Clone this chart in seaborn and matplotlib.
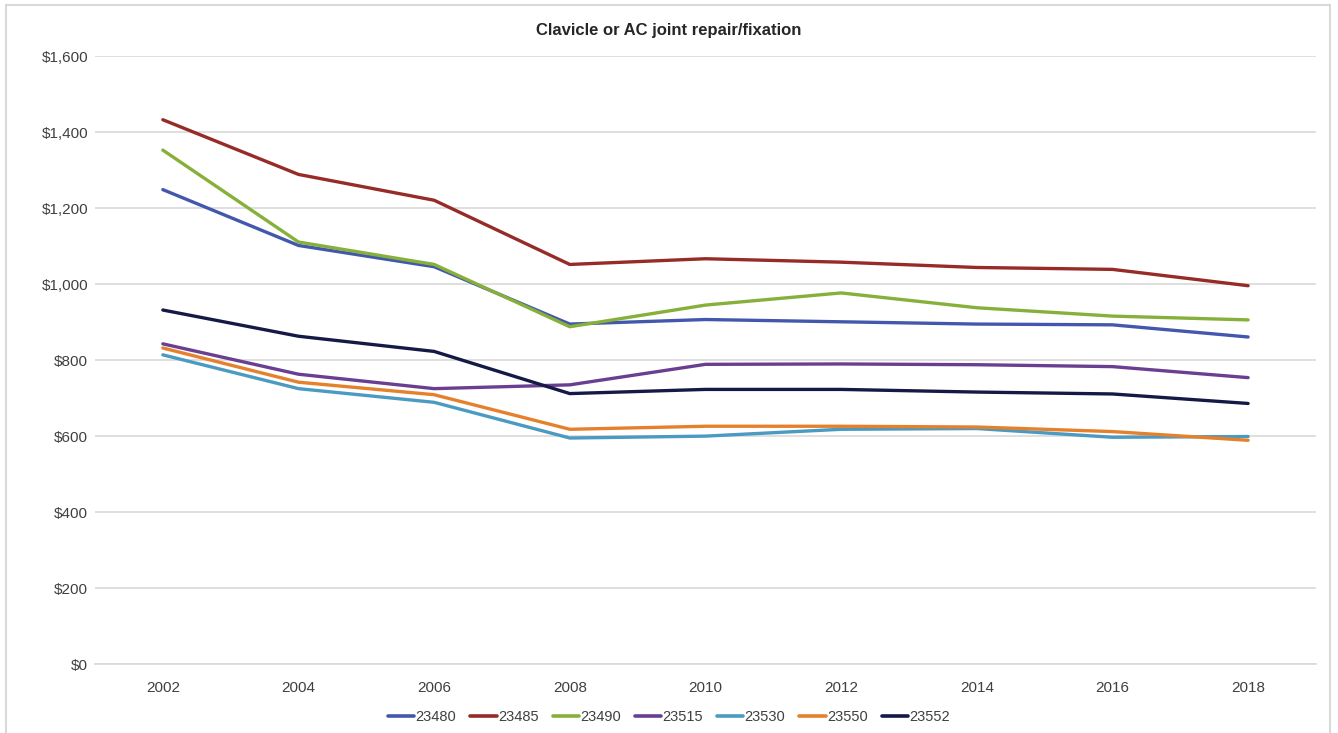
import matplotlib
matplotlib.use("Agg")
import matplotlib.pyplot as plt
from matplotlib.patches import Rectangle
from matplotlib.ticker import FuncFormatter
import seaborn as sns
import pandas as pd

years = ["2002", "2004", "2006", "2008", "2010", "2012", "2014", "2016", "2018"]
codes = ["23480", "23485", "23490", "23515", "23530", "23550", "23552"]

v23480 = [1249, 1102, 1046, 895, 907, 901, 895, 893, 861]
v23485 = [1433, 1289, 1221, 1052, 1067, 1058, 1044, 1039, 996]
v23490 = [1353, 1111, 1052, 888, 945, 977, 938, 916, 906]
v23515 = [843, 763, 725, 735, 789, 790, 788, 783, 754]
v23530 = [814, 725, 689, 595, 600, 618, 620, 597, 599]
v23550 = [832, 742, 709, 618, 626, 626, 624, 612, 589]
v23552 = [932, 863, 823, 712, 723, 723, 716, 711, 686]

colors = ["#4358AD", "#962B28", "#86B03A", "#6A3F92", "#4B9AC2", "#E5812C", "#141A45"]

series = [v23480, v23485, v23490, v23515, v23530, v23550, v23552]
df = pd.DataFrame({
    "year": years * len(codes),
    "code": [c for c in codes for _ in years],
    "cost": [v for s in series for v in s],
})
df["pos"] = df["year"].map({y: i for i, y in enumerate(years)})

sns.set_theme(style="white")
plt.rcParams["font.family"] = ["Liberation Sans", "DejaVu Sans"]

fig = plt.figure(figsize=(13.38, 7.33), dpi=100)
ax = fig.add_axes([0.071, 0.0941, 0.9125, 0.8291])

sns.lineplot(data=df, x="pos", y="cost", hue="code", hue_order=codes,
             palette=colors, linewidth=2.4, ax=ax, legend=False, sort=False)

ax.set_xlim(-0.5, len(years) - 0.5)
ax.set_ylim(0, 1600)
ax.set_yticks(range(0, 1601, 200))
ax.yaxis.set_major_formatter(FuncFormatter(lambda v, _: f"${int(v):,}"))
ax.set_xticks(range(len(years)))
ax.set_xticklabels(years)
ax.grid(axis="y", color="#D9D9D9", linewidth=1.2)
ax.set_axisbelow(True)
for side in ["top", "right", "left"]:
    ax.spines[side].set_visible(False)
ax.spines["bottom"].set_color("#D9D9D9")
ax.spines["bottom"].set_linewidth(1.2)
ax.tick_params(axis="both", length=0, labelsize=11, colors="#404040")
ax.tick_params(axis="x", pad=12)
ax.tick_params(axis="y", pad=5)
ax.set_xlabel("")
ax.set_ylabel("")

fig.text(0.5, 0.959, "Clavicle or AC joint repair/fixation", ha="center", va="center",
         fontsize=12, fontweight="bold", color="#262626")

handles = [plt.Line2D([0], [0], color=c, linewidth=2.6) for c in colors]
fig.legend(handles, codes, loc="center", bbox_to_anchor=(0.5, 0.022), ncol=len(codes),
           frameon=False, fontsize=10.5, handlelength=1.8, handletextpad=0.1,
           columnspacing=0.95, labelcolor="#404040")

fig.patches.append(Rectangle((6 / 1338, -0.05), (1330 - 6) / 1338, 1.05 - 5 / 733,
                             transform=fig.transFigure, fill=False,
                             edgecolor="#D9D9D9", linewidth=1.5))

fig.savefig("out.png", dpi=100, facecolor="white")
